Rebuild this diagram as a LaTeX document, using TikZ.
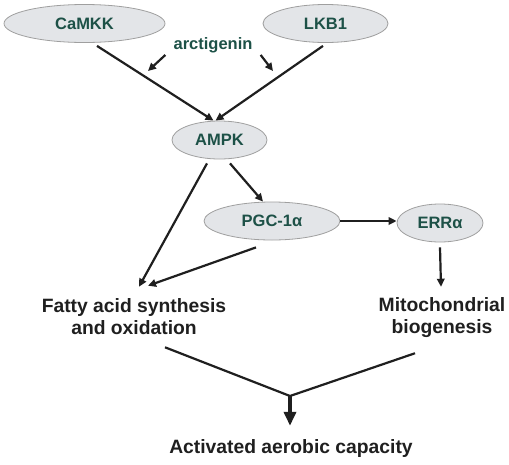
\documentclass[tikz,border=0pt]{standalone}
\usepackage{fontspec}
\setmainfont{Liberation Sans}
\usetikzlibrary{arrows.meta, shapes.geometric}
\definecolor{enztext}{HTML}{1D5147}
\definecolor{enzfill}{HTML}{E3E5E8}

\begin{document}
\begin{tikzpicture}[x=1pt, y=-1pt,
  enz/.style={ellipse, draw=gray!75, line width=0.8pt, fill=enzfill, inner sep=0pt,
              minimum height=38pt, text=enztext,
              font=\fontsize{16.5}{19}\selectfont\bfseries},
  lbl/.style={inner sep=0pt, align=center, text=black!88,
              font=\fontsize{19.3}{22}\selectfont\bfseries},
  link/.style={line width=2.2pt, black!88},
  arr/.style={link, -{Triangle[length=8pt, width=7.5pt]}},
  bigarr/.style={-{Triangle[length=14pt, width=12pt]}, line width=4pt, black!88}
]
  \useasboundingbox (0,0) rectangle (509,464);

  \node[enz, minimum width=161pt] (camkk) at (84.5,23.5) {CaMKK};
  \node[enz, minimum width=125pt] (lkb1) at (325.5,23.5) {LKB1};
  \node[enz, minimum width=95pt] (ampk) at (219.5,140) {AMPK};
  \node[enz, minimum width=136pt] (pgc) at (272,221) {PGC-1α};
  \node[enz, minimum width=86pt] (err) at (440,223) {ERRα};
  \node[inner sep=0pt, text=enztext, font=\fontsize{16.5}{19}\selectfont\bfseries]
    (arct) at (213,45) {arctigenin};

  \node[lbl] (fatty) at (134,317) {Fatty acid synthesis\\and oxidation};
  \node[lbl] (mito) at (442,318) {Mitochondrial\\biogenesis};
  \node[lbl] (act) at (291,449) {Activated aerobic capacity};

  \coordinate (argl) at (148,71);
  \coordinate (argr) at (273,71);
  \coordinate (join) at (290,396);

  % upstream kinases
  \draw[arr] ([xshift=12.5pt, yshift=-3pt]camkk.south) -- ([xshift=-6pt]ampk.north);
  \draw[arr] ([xshift=-2.5pt, yshift=-3pt]lkb1.south) -- ([xshift=-4pt]ampk.north);
  \draw[arr] ([xshift=-8pt, yshift=-2pt]arct.south west) -- (argl);
  \draw[arr] ([xshift=8pt, yshift=-2pt]arct.south east) -- (argr);

  % AMPK targets
  \draw[arr] ([xshift=-12.5pt, yshift=-4pt]ampk.south) -- ([xshift=5pt, yshift=12pt]fatty.north);
  \draw[arr] ([xshift=10.5pt, yshift=-4pt]ampk.south) -- ([xshift=-9pt]pgc.north);
  \draw[arr] (pgc.east) -- (pgc.east -| err.west);
  \draw[arr] ([xshift=-16pt, yshift=-7pt]pgc.south) -- ([xshift=14pt, yshift=13pt]fatty.north);
  \draw[arr] ([yshift=-5pt]err.south) -- ([xshift=-1pt, yshift=11pt]mito.north);

  % merge
  \draw[link] ([xshift=31pt, yshift=-12pt]fatty.south) -- (join);
  \draw[link] ([xshift=-27pt, yshift=-15pt]mito.south) -- (join);
  \draw[bigarr] (join) -- ([xshift=-1pt, yshift=14pt]act.north);
\end{tikzpicture}
\end{document}
